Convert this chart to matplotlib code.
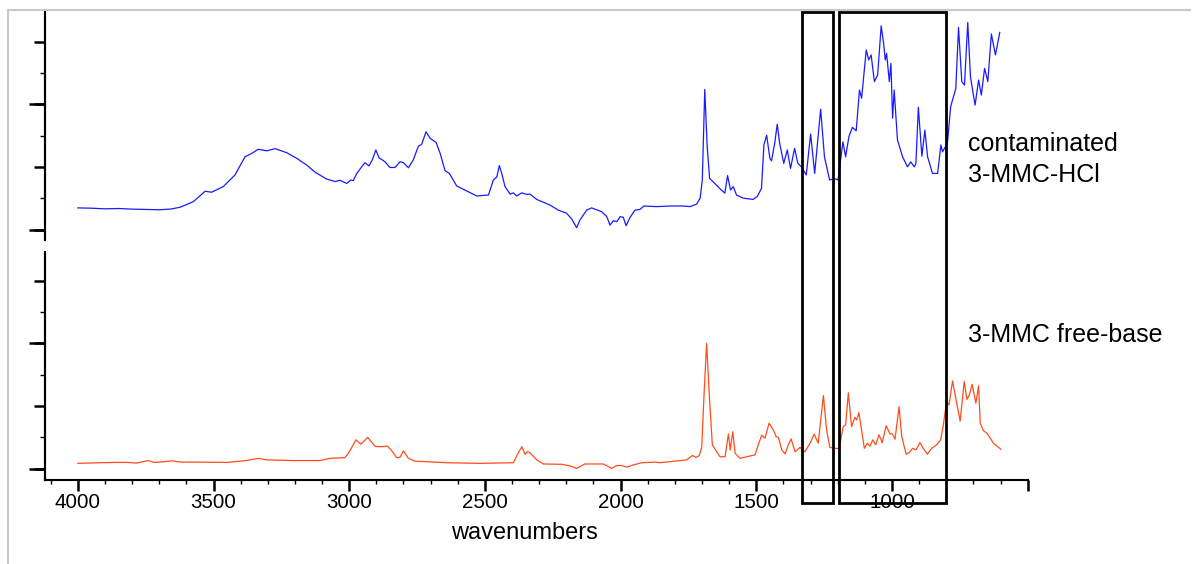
import matplotlib
matplotlib.use("Agg")
import matplotlib.pyplot as plt
from matplotlib.patches import Rectangle
from matplotlib.lines import Line2D
from matplotlib.transforms import blended_transform_factory

plt.rcParams['font.family'] = ['Liberation Sans', 'DejaVu Sans']

# contaminated 3-MMC-HCl spectrum (arbitrary units)
hcl_wn = [4000, 3950, 3900, 3850, 3800, 3750, 3700, 3660, 3623, 3574, 3531, 3507, 3464, 3421,
          3384, 3359, 3335, 3304, 3273, 3230, 3193, 3157, 3126, 3083, 3052, 3034, 3009, 2994,
          2985, 2972, 2954, 2942, 2927, 2915, 2902, 2890, 2868, 2850, 2831, 2813, 2801, 2782,
          2764, 2745, 2733, 2717, 2702, 2680, 2665, 2647, 2631, 2604, 2567, 2530, 2487, 2469,
          2456, 2447, 2438, 2426, 2407, 2395, 2383, 2364, 2346, 2334, 2309, 2260, 2230, 2199,
          2180, 2162, 2150, 2125, 2107, 2070, 2051, 2039, 2027, 2014, 2002, 1990, 1980, 1965,
          1947, 1929, 1914, 1867, 1818, 1769, 1744, 1720, 1707, 1699, 1690, 1681, 1672, 1653,
          1635, 1616, 1606, 1595, 1585, 1573, 1548, 1512, 1497, 1481, 1472, 1462, 1450, 1444,
          1432, 1423, 1414, 1399, 1386, 1374, 1359, 1347, 1334, 1316, 1300, 1285, 1263, 1249,
          1230, 1212, 1199, 1181, 1171, 1159, 1146, 1132, 1120, 1112, 1095, 1086, 1077, 1065,
          1053, 1040, 1031, 1025, 1020, 1010, 1004, 998, 992, 980, 961, 943, 931, 918, 912,
          903, 890, 879, 869, 851, 832, 820, 814, 796, 784, 765, 755, 743, 733, 721, 711, 694,
          681, 671, 659, 647, 634, 619, 603]
hcl_y = [0.69, 0.68, 0.66, 0.67, 0.65, 0.64, 0.63, 0.65, 0.71, 0.89, 1.22, 1.19, 1.37, 1.74,
         2.32, 2.43, 2.56, 2.51, 2.58, 2.45, 2.27, 2.06, 1.83, 1.61, 1.53, 1.57, 1.47, 1.58,
         1.56, 1.79, 2.00, 2.13, 2.03, 2.22, 2.54, 2.29, 2.16, 1.98, 1.98, 2.16, 2.14, 1.97,
         2.22, 2.66, 2.72, 3.12, 2.91, 2.78, 2.43, 1.88, 1.79, 1.39, 1.23, 1.07, 1.10, 1.58,
         1.68, 2.04, 1.79, 1.37, 1.13, 1.17, 1.07, 1.17, 1.12, 1.13, 0.96, 0.78, 0.62, 0.52,
         0.33, 0.06, 0.30, 0.62, 0.69, 0.57, 0.41, 0.14, 0.28, 0.25, 0.41, 0.39, 0.12, 0.39,
         0.62, 0.64, 0.75, 0.73, 0.75, 0.75, 0.73, 0.81, 1.00, 1.58, 4.47, 2.64, 1.63, 1.47,
         1.31, 1.16, 1.72, 1.26, 1.37, 1.10, 1.00, 0.96, 1.05, 1.31, 2.70, 3.01, 2.27, 2.19,
         2.77, 3.36, 2.75, 2.11, 2.54, 1.95, 2.59, 2.11, 2.00, 1.74, 3.05, 1.79, 3.84, 2.32,
         1.58, 1.63, 1.58, 2.80, 2.32, 2.96, 3.26, 3.15, 4.45, 4.19, 5.73, 5.41, 5.57, 4.72,
         4.93, 6.50, 5.94, 5.41, 5.62, 4.72, 5.30, 3.55, 4.45, 2.86, 2.32, 2.00, 2.16, 2.00, 2.11,
         3.90, 2.34, 3.17, 2.32, 1.79, 1.79, 2.70, 2.48, 2.75, 3.92, 4.50, 6.45, 4.72, 4.61,
         6.61, 4.87, 3.97, 4.77, 4.29, 5.14, 4.72, 6.24, 5.57, 6.29]

# 3-MMC free-base spectrum
base_wn = [4000, 3918, 3860, 3820, 3783, 3740, 3720, 3697, 3654, 3620, 3574, 3451, 3378, 3335,
           3304, 3206, 3108, 3071, 3016, 3003, 2975, 2957, 2932, 2905, 2880, 2859, 2843, 2825,
           2813, 2800, 2782, 2757, 2641, 2518, 2395, 2381, 2364, 2352, 2343, 2334, 2309, 2284,
           2217, 2187, 2162, 2132, 2064, 2033, 2014, 1996, 1978, 1953, 1922, 1873, 1855, 1781,
           1757, 1735, 1722, 1710, 1701, 1693, 1683, 1673, 1662, 1646, 1634, 1615, 1603, 1596,
           1587, 1578, 1560, 1536, 1505, 1493, 1480, 1468, 1453, 1437, 1427, 1419, 1406, 1394,
           1382, 1372, 1357, 1339, 1321, 1299, 1287, 1272, 1253, 1241, 1229, 1210, 1195, 1180,
           1171, 1161, 1149, 1137, 1130, 1122, 1112, 1102, 1091, 1081, 1071, 1060, 1048, 1036,
           1022, 1007, 999, 989, 974, 964, 948, 934, 924, 912, 897, 885, 870, 854, 836, 821,
           811, 799, 790, 777, 764, 749, 734, 724, 715, 705, 691, 681, 675, 663, 650, 626, 599]
base_y = [0.17, 0.19, 0.20, 0.20, 0.18, 0.26, 0.20, 0.21, 0.25, 0.21, 0.21, 0.20, 0.26, 0.33,
          0.28, 0.26, 0.26, 0.33, 0.35, 0.49, 0.92, 0.78, 1.00, 0.71, 0.70, 0.72, 0.57, 0.35,
          0.36, 0.57, 0.33, 0.24, 0.19, 0.17, 0.19, 0.44, 0.70, 0.46, 0.54, 0.51, 0.28, 0.15,
          0.14, 0.09, 0.01, 0.15, 0.15, 0.01, 0.10, 0.10, 0.05, 0.12, 0.19, 0.21, 0.19, 0.26,
          0.28, 0.42, 0.36, 0.42, 0.70, 2.30, 4.00, 2.30, 0.76, 0.54, 0.38, 0.38, 1.11, 0.60,
          1.18, 0.49, 0.33, 0.38, 0.44, 0.76, 1.07, 0.97, 1.45, 1.23, 1.02, 1.00, 0.60, 0.47,
          0.76, 0.95, 0.54, 0.68, 0.54, 0.86, 1.10, 0.81, 2.33, 1.23, 0.68, 0.65, 0.64, 1.34,
          1.39, 2.42, 1.34, 1.64, 1.55, 1.79, 1.23, 0.65, 0.81, 0.72, 0.92, 0.76, 1.08, 0.83,
          1.37, 1.11, 1.11, 0.94, 1.98, 1.02, 0.46, 0.54, 0.65, 0.60, 0.83, 0.65, 0.46, 0.65,
          0.76, 0.92, 1.39, 2.14, 2.03, 2.80, 2.19, 1.52, 2.78, 2.21, 2.35, 2.69, 2.09, 2.64,
          1.45, 1.21, 1.13, 0.81, 0.62]

xtick_pos = [4000, 3500, 3000, 2500, 2000, 1500, 1000, 500]
xtick_lab = ['4000', '3500', '3000', '2500', '2000', '1500', '1000', '']
label_top = ['contaminated', '3-MMC-HCl']
label_bot = '3-MMC free-base'
boxes = [(1333, 1217), (1196, 802)]

fig = plt.figure(figsize=(12, 5.64), dpi=100)
W, H = 1200.0, 564.0

left = 44.7 / W
width = (1028 - 44.7) / W
ax_top = fig.add_axes([left, 1 - 240 / H, width, (240 - 10.8) / H])
ax_bot = fig.add_axes([left, 1 - 479.5 / H, width, (479.5 - 252) / H])

ax_top.plot(hcl_wn, hcl_y, color='#1a1aff', lw=0.9)
ax_bot.plot(base_wn, base_y, color='#ff4d1a', lw=0.9)

for ax, lim in ((ax_top, (-0.335, 6.98)), (ax_bot, (-0.345, 6.91))):
    ax.set_xlim(4122, 499)
    ax.set_ylim(*lim)
    ax.set_facecolor('none')
    for s in ('top', 'right'):
        ax.spines[s].set_visible(False)
    ax.spines['left'].set_linewidth(1.5)
    ax.set_yticks([0, 2, 4, 6])
    ax.set_yticks([1, 3, 5], minor=True)
    ax.tick_params(axis='y', which='major', length=8.2, width=1.8, labelleft=False)
    ax.tick_params(axis='y', which='minor', length=3.9, width=1.0)
    # long ticks every fourth step
    sec = ax.secondary_yaxis('left')
    sec.set_yticks([0, 4])
    sec.set_yticklabels([])
    sec.tick_params(length=11.8, width=1.8)
    sec.spines['left'].set_linewidth(1.5)

ax_top.spines['bottom'].set_visible(False)
ax_top.set_xticks([])

ax_bot.spines['bottom'].set_linewidth(1.5)
ax_bot.set_xticks(xtick_pos)
ax_bot.set_xticklabels(xtick_lab, fontsize=14.8)
ax_bot.set_xticks(range(4100, 499, -100), minor=True)
ax_bot.tick_params(axis='x', which='major', length=8, width=1.8, pad=2)
ax_bot.tick_params(axis='x', which='minor', length=3, width=1.0)

fig.text(524 / W, 1 - 539 / H, 'wavenumbers', fontsize=17, ha='center', va='baseline')
fig.text(968 / W, 1 - 150.7 / H, label_top[0], fontsize=18, va='baseline')
fig.text(968 / W, 1 - 181.7 / H, label_top[1], fontsize=18, va='baseline')
fig.text(968 / W, 1 - 342.3 / H, label_bot, fontsize=18, va='baseline')

# black boxes spanning both panels
tr = blended_transform_factory(ax_bot.transData, fig.transFigure)
for x0, x1 in boxes:
    r = Rectangle((x0, 1 - 502.7 / H), x1 - x0, (502.7 - 11.5) / H, transform=tr,
                  fill=False, edgecolor='black', lw=2.0, clip_on=False, zorder=5)
    fig.add_artist(r)

# light page frame
fig.add_artist(Line2D([7.5 / W, 7.5 / W], [0, 1 - 10 / H], color='#c8c8c8', lw=1.5))
fig.add_artist(Line2D([7.5 / W, 1190 / W], [1 - 10 / H, 1 - 10 / H], color='#c8c8c8', lw=1.5))

fig.savefig('out.png', dpi=100)
